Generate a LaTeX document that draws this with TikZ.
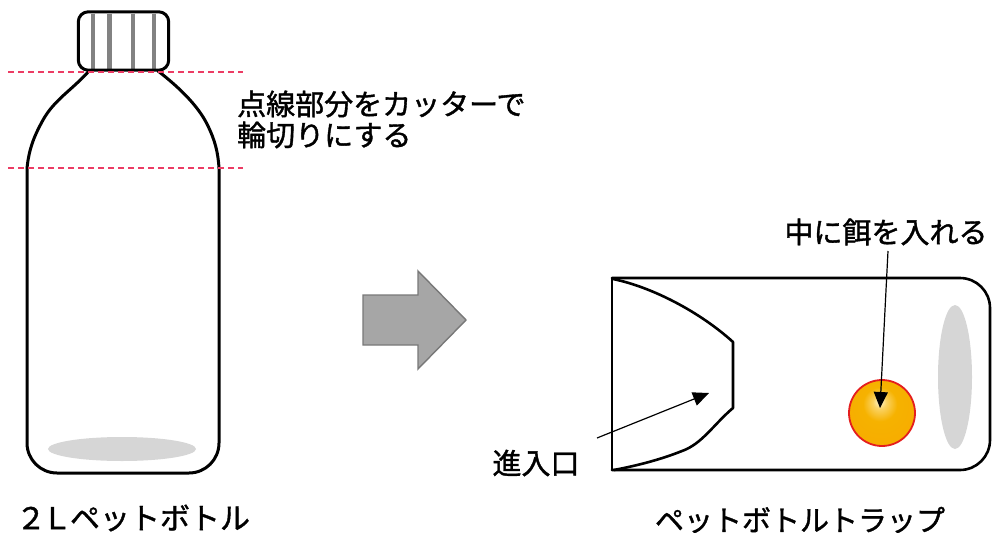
\documentclass[tikz,border=0pt]{standalone}
\usepackage{fontspec}
\newfontfamily\jp[FakeBold=1.3]{Noto Sans CJK JP}
\usetikzlibrary{arrows.meta}

\definecolor{cutred}{RGB}{236,60,100}
\definecolor{capgray}{RGB}{130,130,130}
\definecolor{shadowgray}{RGB}{214,214,214}
\definecolor{bigarrowfill}{RGB}{166,166,166}
\definecolor{bigarrowline}{RGB}{120,120,120}
\definecolor{baitred}{RGB}{228,30,30}
\definecolor{baitgold}{RGB}{246,178,0}
\definecolor{baitlight}{RGB}{255,248,215}

% bait ball: pale highlight above the centre, fading into gold
\pgfdeclareradialshading{bait}{\pgfpoint{-2bp}{9bp}}{%
  color(0bp)=(baitlight);
  color(5bp)=(baitgold!55!baitlight);
  color(13bp)=(baitgold);
  color(25bp)=(baitgold!92!orange);
  color(50bp)=(baitgold!92!orange)}

\tikzset{
  outline/.style={draw=black, line width=3pt, line join=round, line cap=round},
  thinline/.style={draw=black, line width=2.6pt, line join=round, line cap=round},
  cutline/.style={draw=cutred, line width=1.6pt, dash pattern=on 6pt off 4pt},
  stripe/.style={draw=capgray, line width=4.5pt},
  label/.style={font=\jp\fontsize{29}{31}\selectfont, inner sep=0pt},
  pointer/.style={draw=black, line width=1.2pt,
    -{Triangle[length=16pt,width=14pt]}},
}

\begin{document}
\begin{tikzpicture}[x=1pt,y=-1pt]
\useasboundingbox (0,0) rectangle (994,533);

% ---------- 2L bottle ----------
\fill[shadowgray] (122,449) ellipse [x radius=74, y radius=12];
\draw[outline, rounded corners=30pt] (219,168) -- (219,473) -- (27,473) -- (27,168);
\draw[outline] (27,168) .. controls (29,150) and (33,138) .. (43,120)
                        .. controls (54,100) and (72,90) .. (89,71);
\draw[outline] (219,168) .. controls (218,152) and (215,140) .. (207,124)
                         .. controls (198,106) and (180,88) .. (158,71);

% cap with grip ridges
\node[fill=white, rounded corners=10pt, minimum width=90pt,
      minimum height=58pt, inner sep=0pt] (cap) at (123.5,41) {};
\foreach \sx in {93,109.5,133,154}
  \draw[stripe] (\sx,13.5) -- (\sx,68.5);
\draw[outline, rounded corners=10pt] (cap.south west) rectangle (cap.north east);

% cutting lines
\draw[cutline] (8,72) -- (243,72);
\draw[cutline] (8,168) -- (243,168);

\node[label, anchor=west] (cut1) at (237,104) {点線部分をカッターで};
\node[label, anchor=west] (cut2) at (237,135) {輪切りにする};
\node[label, font=\jp\fontsize{30}{32}\selectfont] (bottlename) at (133,518)
  {２\kern-4ptＬ\kern-2ptペットボトル};

% ---------- big arrow ----------
\draw[fill=bigarrowfill, draw=bigarrowline, line width=1.4pt, line join=miter]
  (363,295) -- (418,295) -- (418,271) -- (466,320) -- (418,369)
  -- (418,345) -- (363,345) -- cycle;

% ---------- trap ----------
\fill[shadowgray] (955,377) ellipse [x radius=17, y radius=72];
\draw[thinline, rounded corners=30pt] (612,278) -- (990,278) -- (990,470) -- (612,470);
\draw[thinline, line width=2pt] (612,278) -- (612,470);
% inverted top section forming the entrance funnel
\draw[thinline] (613,279) .. controls (652,287) and (700,312) .. (733,342)
  -- (733,408)
  .. controls (714,424) and (702,444) .. (682,451)
  .. controls (662,459) and (640,465) .. (614,470);

% bait
\shade[shading=bait] (882,413) circle [radius=33];
\draw[draw=baitred, line width=1.8pt] (882,413) circle [radius=33];
\coordinate (baittip) at (880,408);

\node[label] (baitlabel) at (886,232) {中に餌を入れる};
\draw[pointer] (888,251) -- (baittip);

\node[label] (entrylabel) at (536,463) {進入口};
\coordinate (entryfrom) at (597,438);
\coordinate (entrytip) at (709,393);
\draw[pointer] (entryfrom) -- (entrytip);

\node[label] (trapname) at (800,520) {ペットボトルトラップ};
\end{tikzpicture}
\end{document}
